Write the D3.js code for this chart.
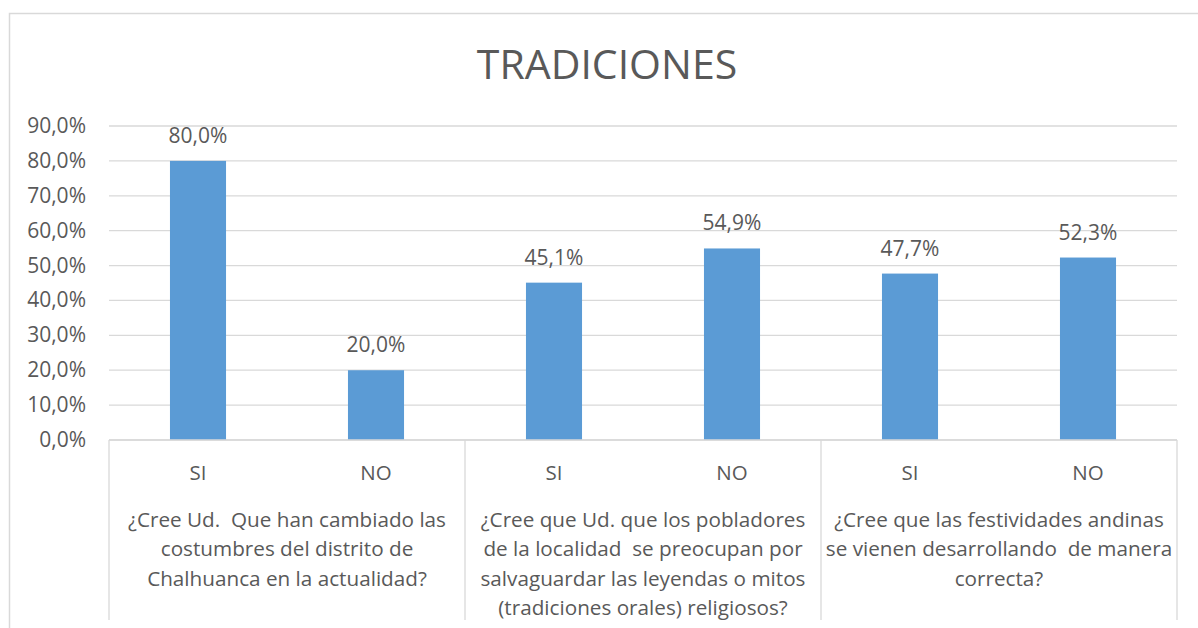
<!DOCTYPE html>
<html>
<head>
<meta charset="utf-8">
<script src="https://cdn.jsdelivr.net/npm/d3@7"></script>
<style>
  body { margin: 0; background: #fff; }
  text { font-family: "Open Sans", sans-serif; fill: #595959; white-space: pre; }
</style>
</head>
<body>
<div id="chart"></div>
<script>
// data
const questions = [
    ["¿Cree Ud.  Que han cambiado las", "costumbres del distrito de", "Chalhuanca en la actualidad?"],
    ["¿Cree que Ud. que los pobladores", "de la localidad  se preocupan por", "salvaguardar las leyendas o mitos", "(tradiciones orales) religiosos?"],
    ["¿Cree que las festividades andinas", "se vienen desarrollando  de manera", "correcta?"]
];
const answers = ["SI", "NO"];
const values = [80.0, 20.0, 45.1, 54.9, 47.7, 52.3];
const yTicks = [0, 10, 20, 30, 40, 50, 60, 70, 80, 90];

const width = 1198, height = 628;
const margin = {top: 126, right: 21, bottom: 188, left: 109};
const innerW = width - margin.left - margin.right;
const innerH = height - margin.top - margin.bottom;

let rows = [];
questions.forEach((q, qi) => {
    answers.forEach((a, ai) => {
        rows.push({key: qi + "-" + ai, group: qi, label: a, value: values[qi * answers.length + ai]});
    });
});

const fmt = v => v.toFixed(1).replace(".", ",") + "%";

const svg = d3.select("#chart").append("svg")
    .attr("width", width)
    .attr("height", height);

// chart frame
svg.append("rect")
    .attr("x", 9.5).attr("y", 13.5)
    .attr("width", 1300).attr("height", 700)
    .attr("fill", "white")
    .attr("stroke", "#d9d9d9")
    .attr("stroke-width", 1.5);

svg.append("text")
    .attr("x", 607).attr("y", 79)
    .attr("text-anchor", "middle")
    .style("font-size", "41px")
    .text("TRADICIONES");

const g = svg.append("g")
    .attr("transform", `translate(${margin.left},${margin.top})`);

const x = d3.scaleBand()
    .domain(rows.map(d => d.key))
    .range([0, innerW])
    .paddingInner(0.685)
    .paddingOuter(0.3425);

const y = d3.scaleLinear()
    .domain([0, 90])
    .range([innerH, 0]);

// gridlines
g.append("g")
    .selectAll("line")
    .data(yTicks)
    .join("line")
    .attr("x1", 0).attr("x2", innerW)
    .attr("y1", d => y(d)).attr("y2", d => y(d))
    .attr("stroke", "#d9d9d9")
    .attr("stroke-width", 1.3);

// y labels
g.append("g")
    .selectAll("text")
    .data(yTicks)
    .join("text")
    .attr("x", -23)
    .attr("y", d => y(d) + 7)
    .attr("text-anchor", "end")
    .style("font-size", "21px")
    .text(d => fmt(d));

// bars
g.selectAll(".bar")
    .data(rows)
    .join("rect")
    .attr("class", "bar")
    .attr("x", d => x(d.key))
    .attr("y", d => y(d.value))
    .attr("width", x.bandwidth())
    .attr("height", d => innerH - y(d.value))
    .attr("fill", "#5b9bd5");

// value labels
g.selectAll(".val")
    .data(rows)
    .join("text")
    .attr("class", "val")
    .attr("x", d => x(d.key) + x.bandwidth() / 2)
    .attr("y", d => y(d.value) - 18)
    .attr("text-anchor", "middle")
    .style("font-size", "21px")
    .text(d => fmt(d.value));

// category axis
const step = innerW / rows.length;
g.append("line")
    .attr("x1", 0).attr("x2", innerW)
    .attr("y1", innerH).attr("y2", innerH)
    .attr("stroke", "#d9d9d9")
    .attr("stroke-width", 1.3);

g.append("g")
    .selectAll("line")
    .data(d3.range(questions.length + 1))
    .join("line")
    .attr("x1", d => d * step * answers.length)
    .attr("x2", d => d * step * answers.length)
    .attr("y1", innerH).attr("y2", innerH + 180)
    .attr("stroke", "#d9d9d9")
    .attr("stroke-width", 1.3);

g.selectAll(".cat")
    .data(rows)
    .join("text")
    .attr("class", "cat")
    .attr("x", d => x(d.key) + x.bandwidth() / 2)
    .attr("y", innerH + 40)
    .attr("text-anchor", "middle")
    .style("font-size", "20.5px")
    .text(d => d.label);

const grp = g.selectAll(".grp")
    .data(questions)
    .join("text")
    .attr("class", "grp")
    .attr("text-anchor", "middle")
    .style("font-size", "20.7px");

grp.selectAll("tspan")
    .data((d, i) => d.map(line => ({line, i})))
    .join("tspan")
    .attr("x", d => (d.i + 0.5) * step * answers.length)
    .attr("y", (d, j) => innerH + 87 + j * 29.3)
    .text(d => d.line);
</script>
</body>
</html>
